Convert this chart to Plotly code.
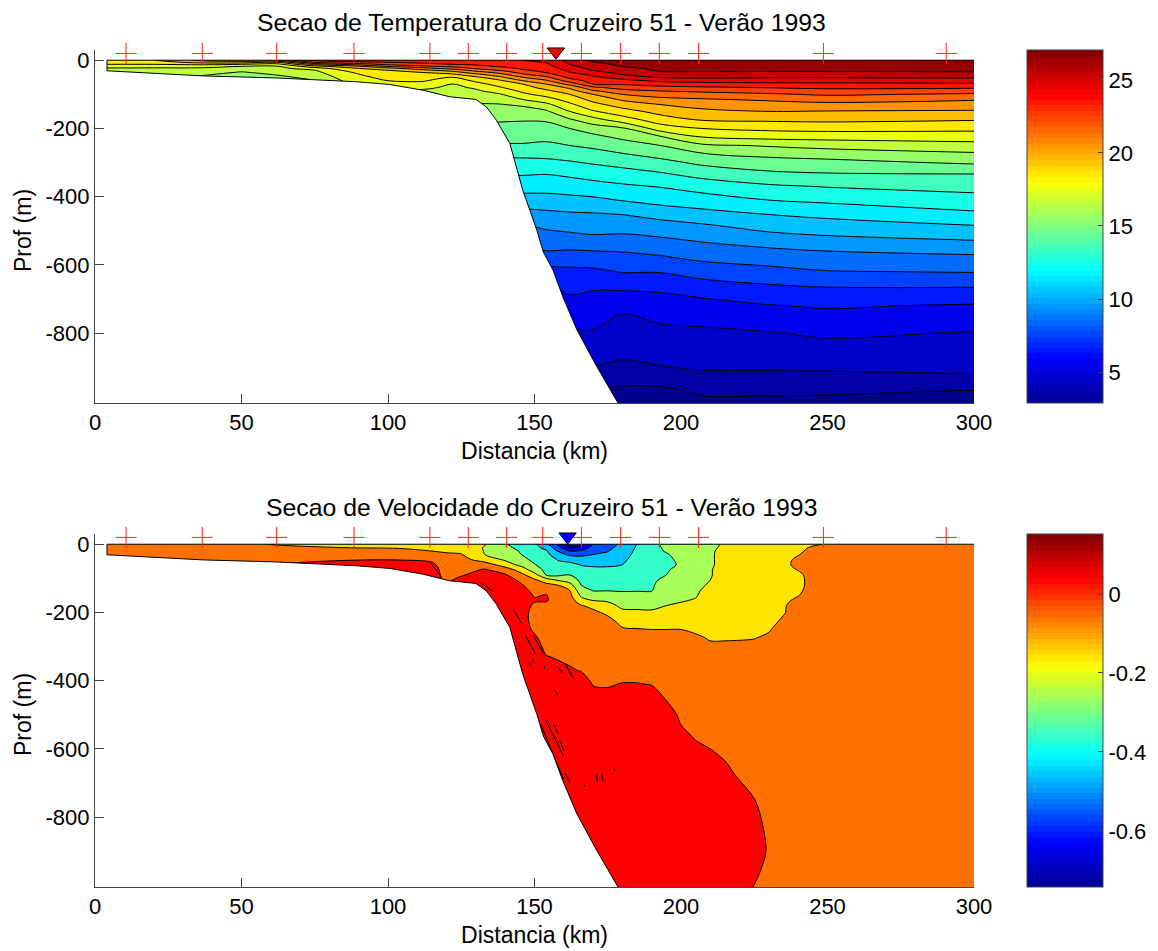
import numpy as np
import plotly.graph_objects as go

W, H = 1158, 951
TITLE_T = "Secao de Temperatura do Cruzeiro 51 - Verão 1993"
TITLE_V = "Secao de Velocidade do Cruzeiro 51 - Verão 1993"

station_km = [10.6, 36.6, 62, 88.4, 114.3, 127.4, 140.5, 152.8, 166, 179.4, 192.6, 206, 248.6, 290.5]
bathy_km = [4.1, 37, 62, 89, 100.6, 112, 121, 130, 133.6, 137, 141.6, 146, 150.8, 153, 156.3, 159.7, 164.5, 171, 178.5]
bathy_m = [31, 46, 52, 63, 71, 88, 107, 115, 137, 176, 244, 381, 498, 562, 615, 694, 791, 894, 1005]

# ---- temperature section (deg C), one list per distance, top to bottom
temp_depth = [0, 6, 12, 18, 24, 30, 36, 42, 50, 60, 70, 80, 90, 100, 115, 130, 150, 175, 200, 225, 250, 275, 300,
              335, 370, 410, 450, 490, 530, 570, 620, 670, 720, 800, 870, 930, 970, 1005]
temp_km = [4.1, 20, 37, 50, 62, 75, 88, 100, 112, 122, 130, 138, 146, 154, 162, 170, 180, 193, 207, 230, 250, 300]
deep = [14.7, 14.3, 13.9, 13.25, 12.7, 12.05, 11.4, 10.6, 9.65, 8.85, 8.3, 7.6, 6.6, 5.8, 5.2, 4.5, 3.9, 3.2, 2.8, 2.5]
t004 = [18.8, 18.4, 18, 17.4, 16.9, 16.65, 16.4, 16.1, 15.8, 15.4, 15, 14.8, 14.8, 14.8, 14.8, 14.8, 14.8, 14.8] + deep
t020 = [19, 18.5, 18, 17.25, 16.9, 16.7, 16.55, 16.35, 16.15, 15.8, 15.4, 15, 14.8, 14.8, 14.8, 14.8, 14.8, 14.8] + deep
t037 = [20.3, 19.4, 18.2, 17.3, 16.85, 16.6, 16.35, 16.1, 15.8, 15.4, 15, 14.8, 14.8, 14.8, 14.8, 14.8, 14.8, 14.8] + deep
t050 = [20.6, 19.5, 18, 17, 16.6, 16.2, 15.9, 15.65, 15.35, 15, 14.8, 14.8, 14.8, 14.8, 14.8, 14.8, 14.8, 14.8] + deep
t062 = [21, 19, 17.6, 16.9, 16.7, 16.5, 16.3, 16.05, 15.75, 15.4, 15, 14.8, 14.8, 14.8, 14.8, 14.8, 14.8, 14.8] + deep
t075 = [23.3, 22, 20.35, 18.65, 17.5, 16.95, 16.75, 16.55, 16.3, 16, 15.65, 15.35, 15, 14.8, 14.8, 14.8, 14.8, 14.8] + deep
t088 = [23.5, 22.8, 21.35, 19.65, 18.85, 18.4, 18, 17.85, 17.65, 17.4, 17.15, 16.8, 16.4, 16, 15.7, 15.5, 15.3, 15] + deep
t100 = [23.6, 23, 22.25, 21, 19.65, 18.95, 18.75, 18.55, 18.3, 18, 17.6, 17.2, 16.8, 16.4, 15.9, 15.65, 15.35, 15] + deep
t112 = [23.6, 23.25, 22.7, 21.8, 20.6, 19.65, 19, 18.8, 18.5, 18.1, 17.65, 17.25, 16.8, 16.4, 15.9, 15.65, 15.35, 15] + deep
t122 = [23.7, 23.35, 23, 22.25, 21.35, 20.35, 19.5, 18.8, 17.95, 17.4, 16.95, 16.75, 16.55, 16.35, 16.05, 15.85, 15.5, 15.1] + deep
t130 = [23.8, 23.5, 23.15, 22.7, 22.1, 21.3, 20.5, 19.7, 18.8, 18.2, 17.65, 17.15, 16.85, 16.6, 16.25, 15.9, 15.55, 15.1] + deep
t138 = [23.9, 23.6, 23.4, 23.1, 22.6, 22, 21.25, 20.6, 19.75, 18.8, 18.35, 17.9, 17.4, 16.9, 16.4, 15.95, 15.6, 15.1] + deep
t146 = [24, 23.8, 23.6, 23.35, 23.15, 22.85, 22.35, 21.8, 21, 20, 19, 18.6, 18.2, 17.8, 17, 16.15, 15.6, 15.05] + deep
t154 = [24.2, 24.05, 23.85, 23.65, 23.45, 23.25, 23.05, 22.6, 21.8, 20.85, 20, 19.35, 18.8, 18.35, 17.6, 16.75, 15.85, 15.1,
        14.65, 14.25, 13.8, 13.3, 12.75, 12, 11.4, 10.6, 9.8, 9.1, 8.5, 7.8, 6.65, 5.8, 5.2, 4.5, 3.9, 3.2, 2.8, 2.5]
t162 = [25.4, 25.2, 25, 24.75, 24.5, 24.2, 23.95, 23.65, 23.25, 22.5, 21.3, 20.2, 19.55, 19, 18.4, 17.8, 17, 15.85,
        15, 14.5, 14, 13.45, 12.9, 12.15, 11.5, 10.7, 9.9, 9.25, 8.55, 7.7, 6.75, 6.2, 5.65, 4.8, 4.1, 3.4, 2.9, 2.5]
t170 = [26.2, 25.95, 25.7, 25.5, 25.25, 25, 24.6, 24.2, 23.8, 23.4, 23, 21.8, 20.85, 20, 19.3, 18.7, 17.9, 16.6,
        15.45, 14.75, 14.2, 13.65, 13.1, 12.35, 11.65, 10.8, 9.95, 9.4, 8.65, 7.75, 6.8, 6.05, 5.6, 4.9, 4.3, 3.6, 2.9, 2.5]
t180 = [26.5, 26.35, 26.2, 26.05, 25.8, 25.55, 25.3, 25, 24.4, 23.7, 23.1, 22.4, 21.65, 21, 20.15, 19.45, 18.6, 17.5,
        15.85, 15.2, 14.55, 13.95, 13.35, 12.55, 11.85, 11.05, 10.05, 9.35, 8.6, 7.85, 7.05, 6.1, 5.2, 4.55, 4.1, 3.35, 2.8, 2.5]
t193 = [26.6, 26.5, 26.4, 26.3, 26.2, 26.1, 25.9, 25.55, 25.1, 24.2, 23.45, 22.7, 22, 21.45, 20.7, 20, 19.35, 18.5,
        17.5, 15.9, 15, 14.35, 13.7, 12.85, 12.05, 11.35, 10.4, 9.5, 8.8, 8.05, 7.05, 6.15, 5.5, 4.75, 4.3, 3.6, 2.7, 2.3]
t207 = [26.6, 26.5, 26.4, 26.3, 26.2, 26.1, 25.9, 25.6, 25.2, 24.4, 23.6, 22.85, 22.2, 21.6, 20.9, 20.4, 19.75, 19.05,
        18, 17, 15.8, 14.95, 14.2, 13.3, 12.4, 11.55, 10.7, 9.75, 9.05, 8.35, 7.45, 6.4, 5.65, 4.8, 4.35, 3.8, 3.2, 2.7]
t230 = [26.6, 26.5, 26.4, 26.3, 26.2, 26.1, 25.9, 25.55, 25.1, 24.4, 23.75, 23.05, 22.45, 21.85, 21.15, 20.6, 20, 19.15,
        18.25, 17.3, 16.1, 15.25, 14.6, 13.75, 12.85, 12, 11.05, 10.3, 9.4, 8.6, 7.7, 6.75, 5.95, 4.95, 4.4, 3.8, 3.2, 2.7]
t250 = [26.6, 26.5, 26.4, 26.3, 26.2, 26.1, 25.9, 25.55, 25.1, 24.4, 23.75, 23.2, 22.65, 22.15, 21.35, 20.75, 19.95, 19.2,
        18.35, 17.35, 16.35, 15.45, 14.7, 13.9, 13.05, 12.2, 11.3, 10.45, 9.7, 8.75, 7.95, 6.9, 6.1, 5.15, 4.45, 3.8, 3.15, 2.7]
t300 = [26.6, 26.5, 26.4, 26.3, 26.2, 26.1, 25.95, 25.6, 25.15, 24.5, 23.85, 23.15, 22.45, 21.85, 21.1, 20.55, 19.9, 19.05,
        18.25, 17.45, 16.65, 15.85, 15.15, 13.95, 13.35, 12.6, 11.85, 10.85, 9.95, 9, 8.05, 6.9, 5.9, 4.95, 4.45, 3.9, 2.95, 2.5]
temp_cols = [t004, t020, t037, t050, t062, t075, t088, t100, t112, t122, t130, t138, t146, t154, t162, t170, t180, t193,
             t207, t230, t250, t300]

# ---- velocity section (m/s), one list per distance, top to bottom
vel_depth = [0, 10, 20, 30, 45, 60, 75, 90, 105, 120, 135, 150, 165, 180, 200, 225, 250, 275, 300, 330, 370, 410, 450,
             500, 560, 620, 680, 750, 830, 900, 960, 1005]
vel_km = [4.1, 40, 62, 85, 104, 115, 120, 125, 133, 140, 146, 150, 154, 158, 162, 166, 170, 175, 180, 185, 190, 195, 200,
          205, 210, 215, 225, 230, 235, 240, 248, 300]
o = -0.05
r = 0.05
v004 = [o] * 32
v040 = [o] * 32
v062 = [-0.11, -0.07, o, o, o, 0.01] + [r] * 26
v085 = [-0.13, -0.10, -0.07, o, -0.01, r] + [r] * 26
v104 = [-0.14, -0.105, -0.085, -0.07, -0.005, r] + [r] * 26
v115 = [-0.15, -0.12, -0.1, -0.08, -0.02, 0.02, r] + [r] * 25
v120 = [-0.16, -0.135, -0.11, -0.09, -0.07, -0.06, -0.05, -0.04, -0.02, 0.02, r] + [r] * 21
v125 = [-0.17, -0.15, -0.12, -0.095, -0.07, o, -0.04, -0.01, 0.03, r] + [r] * 22
v133 = [-0.195, -0.205, -0.205, -0.2, -0.14, -0.055, 0.01, r] + [r] * 24
v140 = [-0.295, -0.285, -0.27, -0.25, -0.215, -0.145, o, 0.01, r] + [r] * 23
v146 = [-0.33, -0.32, -0.31, -0.305, -0.28, -0.24, -0.15, -0.085, -0.03, 0.003, 0.03, r] + [r] * 20
v150 = [-0.38, -0.37, -0.36, -0.35, -0.32, -0.295, -0.26, -0.16, -0.085, -0.06, -0.03, -0.008, 0.01, -0.02, o, o, -0.02,
        0.02, r] + [r] * 13
v154 = [-0.47, -0.43, -0.39, -0.375, -0.36, -0.34, -0.32, -0.305, -0.15, -0.07, -0.03, 0.005, 0.01, -0.03, o, o, o, o,
        -0.03, 0.005, r] + [r] * 11
v158 = [-0.62, -0.56, -0.505, -0.46, -0.405, -0.38, -0.35, -0.32, -0.21, -0.1, -0.07, o, o, o, o, o, o, o, -0.04, -0.01,
        0.03, r] + [r] * 10
v162 = [-0.74, -0.71, -0.595, -0.52, -0.43, -0.375, -0.34, -0.3, -0.24, -0.165, -0.1, -0.075, o, o, o, o, o, o, o, -0.02,
        0.01, r] + [r] * 10
v166 = [-0.72, -0.65, -0.59, -0.52, -0.46, -0.405, -0.375, -0.35, -0.325, -0.3, -0.265, -0.22, -0.165, -0.095, -0.06, o,
        o, o, o, o, -0.005, r] + [r] * 10
v170 = [-0.6, -0.57, -0.535, -0.5, -0.45, -0.41, -0.385, -0.365, -0.345, -0.325, -0.305, -0.265, -0.2, -0.125, -0.08,
        -0.055, o, o, o, o, o, -0.005, 0.03] + [r] * 9
v175 = [-0.56, -0.53, -0.505, -0.48, -0.44, -0.41, -0.385, -0.365, -0.345, -0.325, -0.305, -0.26, -0.21, -0.17, -0.12,
        -0.07, o, o, o, o, o, -0.01, 0.03] + [r] * 9
v180 = [-0.47, -0.455, -0.44, -0.43, -0.415, -0.4, -0.385, -0.365, -0.345, -0.325, -0.305, -0.285, -0.255, -0.22, -0.18,
        -0.13, -0.09, -0.065, o, o, o, 0.005, r] + [r] * 9
v185 = [-0.4, -0.39, -0.385, -0.38, -0.37, -0.36, -0.35, -0.34, -0.33, -0.32, -0.305, -0.28, -0.25, -0.22, -0.185, -0.14,
        -0.095, -0.07, o, o, o, 0.005, r] + [r] * 9
v190 = [-0.32, -0.32, -0.32, -0.32, -0.32, -0.32, -0.32, -0.32, -0.315, -0.31, -0.305, -0.28, -0.25, -0.225, -0.185, -0.14,
        -0.1, -0.075, o, o, o, -0.005, r] + [r] * 9
v195 = [-0.28, -0.29, -0.295, -0.305, -0.31, -0.31, -0.305, -0.3, -0.28, -0.26, -0.24, -0.225, -0.21, -0.2, -0.17, -0.135,
        -0.1, -0.075, o, o, o, o, -0.01, r] + [r] * 8
v200 = [-0.25, -0.26, -0.27, -0.28, -0.29, -0.295, -0.285, -0.27, -0.25, -0.23, -0.21, -0.215, -0.205, -0.19, -0.165, -0.13,
        -0.1, -0.07, o, o, o, o, o, -0.02, 0.02, r] + [r] * 6
v205 = [-0.23, -0.235, -0.24, -0.245, -0.245, -0.25, -0.245, -0.24, -0.23, -0.22, -0.21, -0.205, -0.195, -0.18, -0.16,
        -0.135, -0.11, -0.09, -0.06, o, o, o, o, o, -0.01, 0.03, r] + [r] * 5
v210 = [-0.21, -0.21, -0.21, -0.21, -0.21, -0.21, -0.205, -0.205, -0.2, -0.19, -0.18, -0.17, -0.165, -0.155, -0.145, -0.13,
        -0.115, -0.105, -0.09, -0.06, o, o, o, o, -0.03, 0.015, r] + [r] * 5
v215 = [-0.195, -0.19, -0.18, -0.175, -0.175, -0.175, -0.17, -0.17, -0.165, -0.16, -0.155, -0.15, -0.145, -0.14, -0.135,
        -0.125, -0.115, -0.105, -0.09, -0.06, o, o, o, o, o, -0.01, 0.03, r, r, r, r, r]
v225 = [-0.16, -0.155, -0.155, -0.155, -0.155, -0.155, -0.15, -0.15, -0.15, -0.145, -0.145, -0.14, -0.14, -0.135, -0.13,
        -0.125, -0.115, -0.102, -0.085, -0.06, o, o, o, o, o, o, o, 0.003, r, r, 0.02, -0.002]
v230 = [-0.15, -0.15, -0.15, -0.15, -0.15, -0.145, -0.145, -0.145, -0.14, -0.14, -0.135, -0.13, -0.13, -0.125, -0.125,
        -0.12, -0.105, -0.09, -0.07, -0.055, o, o, o, o, o, o, o, o, -0.033, -0.0125, -0.03, o]
v235 = [-0.135, -0.13, -0.125, -0.12, -0.115, -0.115, -0.115, -0.12, -0.125, -0.125, -0.12, -0.115, -0.11, -0.105, -0.105,
        -0.09, -0.075, -0.06] + [o] * 14
v240 = [-0.125, -0.115, -0.11, -0.103, -0.09, -0.085, -0.098, -0.11, -0.115, -0.115, -0.11, -0.102, -0.09, -0.08, -0.07,
        -0.06] + [o] * 16
v248 = [-0.1, -0.08, -0.07, -0.065, -0.065, -0.065, -0.065, -0.065, -0.06, -0.06, -0.06, -0.055] + [o] * 20
v300 = [o] * 32
vel_cols = [v004, v040, v062, v085, v104, v115, v120, v125, v133, v140, v146, v150, v154, v158, v162, v166, v170, v175,
            v180, v185, v190, v195, v200, v205, v210, v215, v225, v230, v235, v240, v248, v300]

# tiny isolated zero contours inside the red region: (km, m) start and end of each
speck_km = [(152.2, 159.9), (153.8, 159.9), (156.4, 157.8), (158.5, 160.1), (160.4, 162.1), (157, 157.8), (149, 150),
            (153, 153.6), (158.1, 159.5), (160.4, 163.3), (171.2, 171.5), (172.9, 173.5), (177.1, 177.5), (167, 167.2),
            (142.8, 145.6), (146.8, 150.2), (149.6, 153), (132, 136), (114.3, 118.3), (147.9, 149)]
speck_m = [(529, 690), (515, 622), (524, 554), (573, 607), (671, 700), (427, 442), (334, 351),
           (351, 364), (361, 378), (351, 393), (676, 700), (673, 695), (658, 666), (705, 710),
           (193, 232), (266, 320), (266, 320), (115, 139), (52, 96), (344, 359)]

for c in temp_cols:
    assert len(c) == len(temp_depth), len(c)
for i, c in enumerate(vel_cols):
    assert len(c) == len(vel_depth), (i, len(c))

T_RANGE = (2.88, 27.05)
V_RANGE = (-0.742, 0.152)
T_TICKS = [5, 10, 15, 20, 25]
V_TICKS = [-0.6, -0.4, -0.2, 0]
X_TICKS = [0, 50, 100, 150, 200, 250, 300]
Y_TICKS = [0, -200, -400, -600, -800]
Y_LABELS = ["0", "-200", "-400", "-600", "-800"]
FONT = "Liberation Sans"
FS_TICK = 22
FS_LABEL = 23
FS_TITLE = 24.8
AX = "#444444"
JET = [(0, (0, 0, 143)), (.125, (0, 0, 255)), (.375, (0, 255, 255)), (.625, (255, 255, 0)), (.875, (255, 0, 0)), (1, (128, 0, 0))]


def jet(t):
    t = min(max(t, 0), 1)
    ps = [a[0] for a in JET]
    rgb = [np.interp(t, ps, [a[1][k] for a in JET]) for k in range(3)]
    return "rgb(%d,%d,%d)" % tuple(rgb)


def band_scale(start, step, n, rng, shift=0.0):
    # one colour per contour band; the band above level L takes jet near its midpoint
    return [[k / n, jet((start - step / 2 + k * step + shift - rng[0]) / (rng[1] - rng[0]))] for k in range(n + 1)]


def bar_scale():
    s = []
    for k in range(64):
        s += [[k / 64, jet((k + .5) / 64)], [(k + 1) / 64, jet((k + .5) / 64)]]
    return s


fig = go.Figure()
px_x = lambda a, b: [a / W, b / W]
px_y = lambda top, bot: [1 - bot / H, 1 - top / H]
panels = [
    dict(n="", title=TITLE_T, top=50, bot=403, tri=157.3, tri_col="#ff0000", tri_y=25),
    dict(n="2", title=TITLE_V, top=534, bot=887, tri=161.3, tri_col="#0000ff", tri_y=22),
]
data = [
    (temp_km, temp_depth, temp_cols, dict(start=3, end=26, size=1), band_scale(3, 1, 24, T_RANGE)),
    (vel_km, vel_depth, vel_cols, dict(start=-0.7, end=0.001, size=0.1), band_scale(-0.7, 0.1, 8, V_RANGE, -0.01)),
]
for p, (xs, ds, cols, cont, cs) in zip(panels, data):
    xa, ya = "x" + p["n"], "y" + p["n"]
    y = [-d for d in ds][::-1]
    z = np.array(cols, dtype=float).T[::-1]
    fig.add_trace(go.Contour(x=xs, y=y, z=z, contours=dict(coloring="fill", **cont), colorscale=cs, showscale=False,
                             line=dict(color="black", width=1), xaxis=xa, yaxis=ya, hoverinfo="skip"))
    if p["n"] == "2":
        sx, sy = [], []
        for (a, b), (c, d) in zip(speck_km, speck_m):
            sx += [a, b, None]
            sy += [-c, -d, None]
        fig.add_trace(go.Scatter(x=sx, y=sy, mode="lines", line=dict(color="black", width=1), xaxis=xa, yaxis=ya,
                                 showlegend=False, hoverinfo="skip"))
    # sea floor mask
    fig.add_trace(go.Scatter(x=bathy_km + [bathy_km[-1], 0, 0, bathy_km[0]],
                             y=[-d for d in bathy_m] + [-bathy_m[-1], -bathy_m[-1], -bathy_m[0], -bathy_m[0]],
                             fill="toself", fillcolor="white", mode="none", xaxis=xa, yaxis=ya, showlegend=False))
    fig.add_trace(go.Scatter(x=bathy_km, y=[-d for d in bathy_m], mode="lines", line=dict(color="black", width=1),
                             xaxis=xa, yaxis=ya, showlegend=False))
    fig.add_trace(go.Scatter(x=[bathy_km[0], bathy_km[0], 300], y=[-bathy_m[0], 0, 0], mode="lines",
                             line=dict(color="black", width=1), xaxis=xa, yaxis=ya, showlegend=False))
    fig.add_trace(go.Scatter(x=station_km, y=[20] * len(station_km), mode="markers", cliponaxis=False,
                             marker=dict(symbol="cross-thin", size=15, color="#ff2020", line=dict(color="#ff2020", width=1)),
                             xaxis=xa, yaxis=ya, showlegend=False))
    fig.add_trace(go.Scatter(x=[p["tri"]], y=[p["tri_y"]], mode="markers", cliponaxis=False,
                             marker=dict(symbol="triangle-down", size=15, color=p["tri_col"],
                                         line=dict(color="black", width=1)),
                             xaxis=xa, yaxis=ya, showlegend=False))

# colour bars
for p, rng, ticks, txt in [(panels[0], T_RANGE, T_TICKS, [str(t) for t in T_TICKS]),
                           (panels[1], V_RANGE, V_TICKS, ["-0.6", "-0.4", "-0.2", "0"])]:
    fig.add_trace(go.Heatmap(z=[[rng[0], rng[1]]], x=[-60, -50], y=[-500], zmin=rng[0], zmax=rng[1], colorscale=bar_scale(),
                             xaxis="x" + p["n"], yaxis="y" + p["n"], hoverinfo="skip",
                             colorbar=dict(x=1027 / W, xanchor="left", xref="paper", thicknessmode="pixels", thickness=76,
                                           lenmode="pixels", len=p["bot"] - p["top"], y=1 - p["bot"] / H, yanchor="bottom",
                                           ypad=0, xpad=0, tickvals=ticks, ticktext=txt, ticks="inside", ticklen=5,
                                           tickcolor=AX, outlinecolor=AX, outlinewidth=1,
                                           tickfont=dict(family=FONT, size=FS_TICK, color="black"))))

layout = dict(width=W, height=H, margin=dict(l=0, r=0, t=0, b=0, autoexpand=False), paper_bgcolor="white", plot_bgcolor="white",
              showlegend=False, font=dict(family=FONT, size=FS_TICK, color="black"))
ann = []
for p in panels:
    n = p["n"]
    layout["xaxis" + n] = dict(domain=px_x(95, 974), range=[0, 300], anchor="y" + n, tickvals=X_TICKS, ticks="", showgrid=False,
                               zeroline=False, showline=True, linecolor=AX, linewidth=1, ticklabelstandoff=0,
                               tickfont=dict(size=FS_TICK, family=FONT),
                               title=dict(text="Distancia (km)", standoff=8, font=dict(size=FS_LABEL, family=FONT)))
    layout["yaxis" + n] = dict(domain=px_y(p["top"], p["bot"]), range=[-1005, 30], anchor="x" + n, tickvals=Y_TICKS, ticktext=Y_LABELS,
                               ticks="inside", ticklen=9, tickcolor=AX, showgrid=False, zeroline=False, showline=True, linecolor=AX,
                               linewidth=1, tickfont=dict(size=FS_TICK, family=FONT))
    ann.append(dict(text=p["title"], xref="paper", yref="paper", x=(258 + 825) / 2 / W, y=1 - (p["top"] - 27) / H, xanchor="center",
                    yanchor="middle", showarrow=False, font=dict(size=FS_TITLE, family=FONT)))
    ann.append(dict(text="Prof (m)", xref="paper", yref="paper", x=23 / W, y=1 - (p["top"] + 181) / H, xanchor="center",
                    yanchor="middle", textangle=-90, showarrow=False, font=dict(size=FS_LABEL, family=FONT)))
layout["annotations"] = ann
# inner x ticks exist only over the white part of each panel
layout["xaxis3"] = dict(domain=px_x(95, 974), range=[0, 300], anchor="y", overlaying="x", tickvals=[50, 100, 150], ticks="inside",
                        ticklen=9, tickcolor=AX, showticklabels=False, showgrid=False, zeroline=False)
layout["xaxis4"] = dict(domain=px_x(95, 974), range=[0, 300], anchor="y2", overlaying="x2", tickvals=[50, 100, 150], ticks="inside",
                        ticklen=9, tickcolor=AX, showticklabels=False, showgrid=False, zeroline=False)
fig.update_layout(**layout)
for xa, ya in (("x3", "y"), ("x4", "y2")):
    fig.add_trace(go.Scatter(x=[0], y=[30], mode="markers", marker=dict(opacity=0), xaxis=xa, yaxis=ya, showlegend=False, hoverinfo="skip"))

fig.write_html("out.html", config={"displayModeBar": False},
               post_script="document.body.style.margin='0';document.documentElement.style.overflow='hidden';")
